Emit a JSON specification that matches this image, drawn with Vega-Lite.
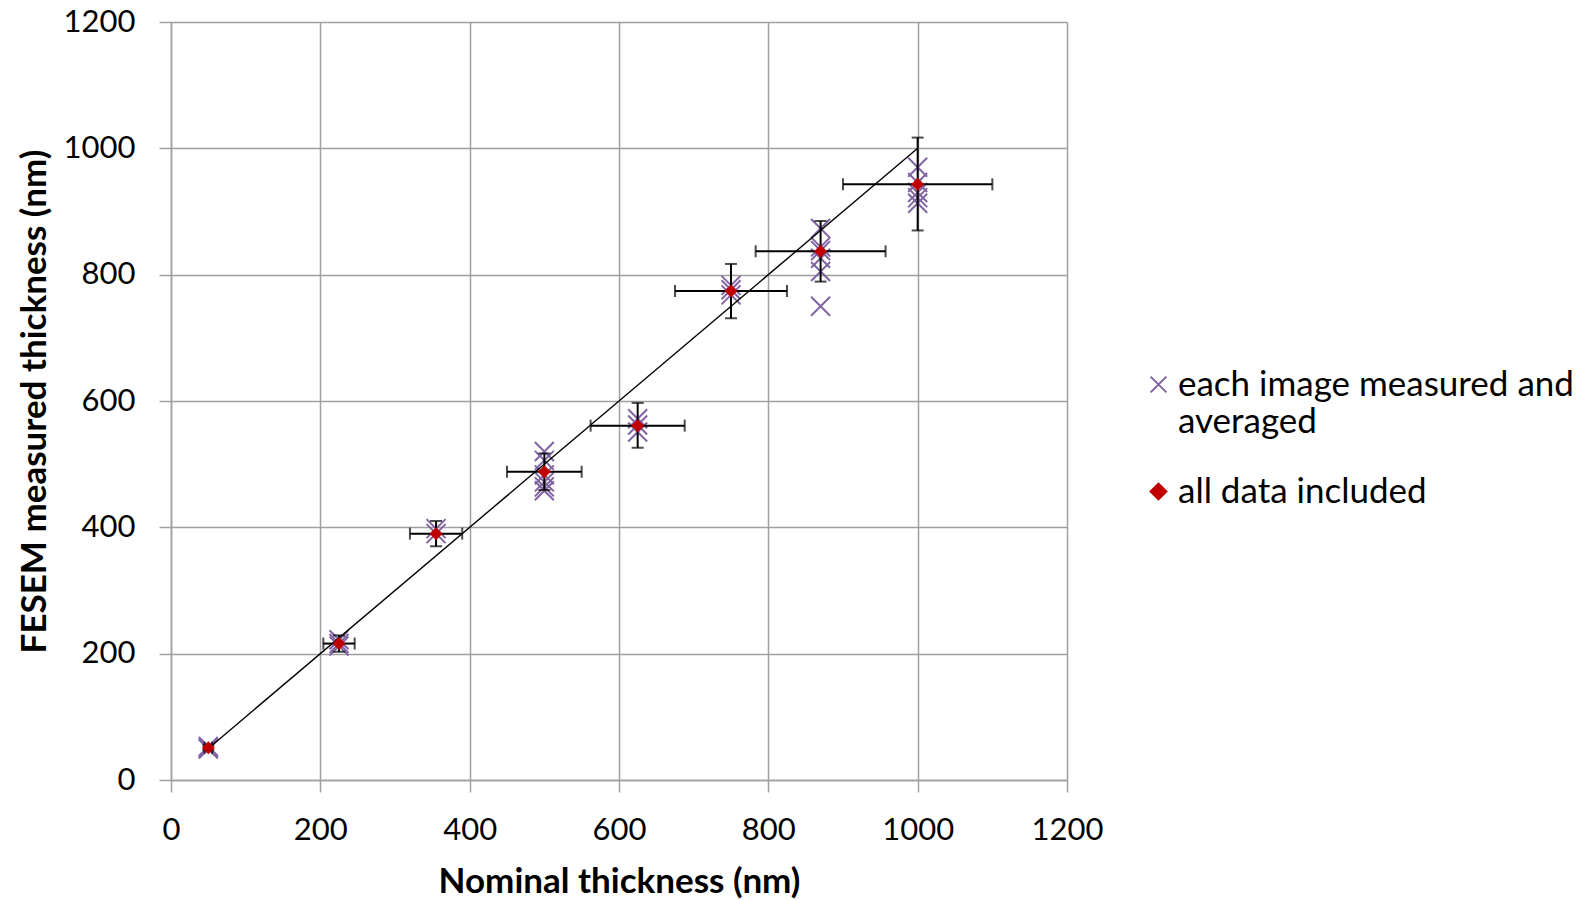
{
  "$schema": "https://vega.github.io/schema/vega-lite/v6.json",
  "width": 896,
  "height": 758,
  "autosize": {"type": "none"},
  "padding": {"left": 171, "top": 22, "right": 527, "bottom": 120},
  "background": "white",
  "config": {
    "view": {"stroke": null},
    "axis": {
      "grid": true,
      "gridColor": "#A0A0A0",
      "gridWidth": 1.5,
      "domainColor": "#A0A0A0",
      "domainWidth": 1.5,
      "tickColor": "#A0A0A0",
      "tickWidth": 1.5,
      "tickSize": 12,
      "labelFlush": false,
      "labelFont": "Lato",
      "labelFontSize": 31,
      "labelColor": "#000000",
      "titleFont": "Lato",
      "titleFontSize": 35,
      "titleFontWeight": "bold",
      "titleColor": "#000000"
    }
  },
  "datasets": {
    "means": [
      {"nominal": 50, "mean": 51, "ylo": 48, "yhi": 55, "xlo": 45, "xhi": 55, "series": "all data included"},
      {"nominal": 225, "mean": 216, "ylo": 203, "yhi": 229, "xlo": 204, "xhi": 246, "series": "all data included"},
      {"nominal": 355, "mean": 390, "ylo": 370, "yhi": 410, "xlo": 320, "xhi": 390, "series": "all data included"},
      {"nominal": 500, "mean": 488, "ylo": 459, "yhi": 517, "xlo": 450, "xhi": 550, "series": "all data included"},
      {"nominal": 625, "mean": 561, "ylo": 526, "yhi": 597, "xlo": 562, "xhi": 688, "series": "all data included"},
      {"nominal": 750, "mean": 774, "ylo": 731, "yhi": 817, "xlo": 675, "xhi": 825, "series": "all data included"},
      {"nominal": 870, "mean": 837, "ylo": 789, "yhi": 885, "xlo": 783, "xhi": 957, "series": "all data included"},
      {"nominal": 1000, "mean": 943, "ylo": 870, "yhi": 1017, "xlo": 900, "xhi": 1100, "series": "all data included"}
    ],
    "images": [
      {"nominal": 50, "measured": 53, "series": "each image measured and averaged"},
      {"nominal": 50, "measured": 51, "series": "each image measured and averaged"},
      {"nominal": 50, "measured": 49, "series": "each image measured and averaged"},
      {"nominal": 225, "measured": 222, "series": "each image measured and averaged"},
      {"nominal": 225, "measured": 216, "series": "each image measured and averaged"},
      {"nominal": 225, "measured": 212, "series": "each image measured and averaged"},
      {"nominal": 355, "measured": 398, "series": "each image measured and averaged"},
      {"nominal": 355, "measured": 390, "series": "each image measured and averaged"},
      {"nominal": 500, "measured": 520, "series": "each image measured and averaged"},
      {"nominal": 500, "measured": 506, "series": "each image measured and averaged"},
      {"nominal": 500, "measured": 483, "series": "each image measured and averaged"},
      {"nominal": 500, "measured": 472, "series": "each image measured and averaged"},
      {"nominal": 500, "measured": 464, "series": "each image measured and averaged"},
      {"nominal": 500, "measured": 458, "series": "each image measured and averaged"},
      {"nominal": 625, "measured": 572, "series": "each image measured and averaged"},
      {"nominal": 625, "measured": 562, "series": "each image measured and averaged"},
      {"nominal": 625, "measured": 551, "series": "each image measured and averaged"},
      {"nominal": 750, "measured": 783, "series": "each image measured and averaged"},
      {"nominal": 750, "measured": 776, "series": "each image measured and averaged"},
      {"nominal": 750, "measured": 768, "series": "each image measured and averaged"},
      {"nominal": 870, "measured": 873, "series": "each image measured and averaged"},
      {"nominal": 870, "measured": 844, "series": "each image measured and averaged"},
      {"nominal": 870, "measured": 838, "series": "each image measured and averaged"},
      {"nominal": 870, "measured": 826, "series": "each image measured and averaged"},
      {"nominal": 870, "measured": 805, "series": "each image measured and averaged"},
      {"nominal": 870, "measured": 750, "series": "each image measured and averaged"},
      {"nominal": 1000, "measured": 970, "series": "each image measured and averaged"},
      {"nominal": 1000, "measured": 946, "series": "each image measured and averaged"},
      {"nominal": 1000, "measured": 930, "series": "each image measured and averaged"},
      {"nominal": 1000, "measured": 922, "series": "each image measured and averaged"},
      {"nominal": 1000, "measured": 913, "series": "each image measured and averaged"}
    ],
    "trend": [
      {"nominal": 50, "measured": 50},
      {"nominal": 1000, "measured": 1000}
    ]
  },
  "layer": [
    {
      "data": {"name": "images"},
      "mark": {"type": "point", "filled": false, "size": 361, "strokeWidth": 2, "opacity": 1},
      "encoding": {
        "x": {"field": "nominal", "type": "quantitative", "scale": {"domain": [0, 1200], "nice": false},
              "axis": {"values": [0, 200, 400, 600, 800, 1000, 1200], "format": "d", "title": "Nominal thickness (nm)", "labelPadding": 23, "titlePadding": 19}},
        "y": {"field": "measured", "type": "quantitative", "scale": {"domain": [0, 1200], "nice": false},
              "axis": {"values": [0, 200, 400, 600, 800, 1000, 1200], "format": "d", "title": "FESEM measured thickness (nm)", "labelPadding": 24, "titlePadding": 11}},
        "color": {"field": "series", "type": "nominal",
                  "scale": {"domain": ["each image measured and averaged", "all data included"], "range": ["#8064A2", "#C00000"]},
                  "legend": {
                    "title": null,
                    "orient": "none",
                    "legendX": 970,
                    "legendY": 345,
                    "padding": 0,
                    "labelFont": "Lato",
                    "labelFontSize": 35,
                    "labelColor": "#000000",
                    "labelOffset": 2,
                    "labelLimit": 600,
                    "rowPadding": 34,
                    "symbolSize": 250,
                    "symbolStrokeWidth": 2,
                    "labelExpr": "datum.label == 'each image measured and averaged' ? ['each image measured and', 'averaged'] : datum.label"
                  }},
        "shape": {"field": "series", "type": "nominal",
                  "scale": {"domain": ["each image measured and averaged", "all data included"], "range": ["M-1,-1L1,1M1,-1L-1,1", "diamond"]},
                  "legend": null}
      }
    },
    {
      "data": {"name": "trend"},
      "mark": {"type": "line", "color": "#000000", "strokeWidth": 1.4},
      "encoding": {
        "x": {"field": "nominal", "type": "quantitative"},
        "y": {"field": "measured", "type": "quantitative"}
      }
    },
    {
      "data": {"name": "means"},
      "mark": {"type": "rule", "color": "#000000", "strokeWidth": 2},
      "encoding": {
        "x": {"field": "nominal", "type": "quantitative"},
        "y": {"field": "ylo", "type": "quantitative"},
        "y2": {"field": "yhi"}
      }
    },
    {
      "data": {"name": "means"},
      "mark": {"type": "rule", "color": "#000000", "strokeWidth": 2},
      "encoding": {
        "y": {"field": "mean", "type": "quantitative"},
        "x": {"field": "xlo", "type": "quantitative"},
        "x2": {"field": "xhi"}
      }
    },
    {
      "data": {"name": "means"},
      "mark": {"type": "tick", "orient": "horizontal", "color": "#000000", "size": 12, "thickness": 2},
      "encoding": {
        "x": {"field": "nominal", "type": "quantitative"},
        "y": {"field": "ylo", "type": "quantitative"}
      }
    },
    {
      "data": {"name": "means"},
      "mark": {"type": "tick", "orient": "horizontal", "color": "#000000", "size": 12, "thickness": 2},
      "encoding": {
        "x": {"field": "nominal", "type": "quantitative"},
        "y": {"field": "yhi", "type": "quantitative"}
      }
    },
    {
      "data": {"name": "means"},
      "mark": {"type": "tick", "orient": "vertical", "color": "#000000", "size": 12, "thickness": 2},
      "encoding": {
        "x": {"field": "xlo", "type": "quantitative"},
        "y": {"field": "mean", "type": "quantitative"}
      }
    },
    {
      "data": {"name": "means"},
      "mark": {"type": "tick", "orient": "vertical", "color": "#000000", "size": 12, "thickness": 2},
      "encoding": {
        "x": {"field": "xhi", "type": "quantitative"},
        "y": {"field": "mean", "type": "quantitative"}
      }
    },
    {
      "data": {"name": "means"},
      "mark": {"type": "point", "filled": true, "size": 169, "opacity": 1},
      "encoding": {
        "x": {"field": "nominal", "type": "quantitative"},
        "y": {"field": "mean", "type": "quantitative"},
        "color": {"field": "series", "type": "nominal", "legend": null},
        "shape": {"field": "series", "type": "nominal", "legend": null}
      }
    }
  ]
}
